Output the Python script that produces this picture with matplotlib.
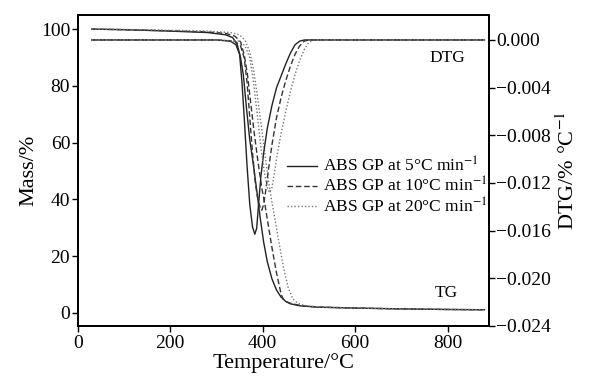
import numpy as np
import matplotlib
matplotlib.use("Agg")
import matplotlib.pyplot as plt

plt.rcParams['font.family'] = ['Liberation Serif', 'DejaVu Serif']
plt.rcParams['mathtext.fontset'] = 'stix'

# TG curves (mass %)
tg5_t = [30, 100, 200, 280, 320, 335, 345, 352, 358, 365, 372, 380, 388, 395, 402, 410, 420, 430, 440, 450, 460, 480, 520, 600, 700, 800, 880]
tg5_m = [100, 99.8, 99.3, 98.8, 98.0, 97.0, 94.5, 90, 84, 72, 61, 52, 42, 33, 25, 18, 12, 8, 5.5, 4, 3.2, 2.5, 2.0, 1.7, 1.4, 1.2, 1.1]

tg10_t = [30, 100, 200, 280, 320, 340, 352, 360, 367, 374, 382, 390, 398, 405, 412, 420, 430, 440, 444, 450, 460, 470, 490, 530, 600, 700, 800, 880]
tg10_m = [100, 99.8, 99.4, 99.0, 98.5, 97.5, 95.5, 91, 84, 74, 63, 53, 44, 38, 31, 23, 14, 6.5, 5, 4, 3.4, 3.0, 2.4, 2.0, 1.7, 1.4, 1.2, 1.1]

tg20_t = [30, 100, 200, 280, 330, 350, 362, 372, 380, 388, 396, 404, 412, 420, 427, 435, 445, 455, 465, 475, 490, 520, 600, 700, 800, 880]
tg20_m = [100, 99.9, 99.6, 99.3, 98.8, 98, 96, 92, 86, 77, 67, 57, 47, 39, 32.6, 25, 16, 9, 5, 3.5, 2.6, 2.1, 1.7, 1.4, 1.2, 1.1]

# DTG curves (%/degC)
dtg5_t = [30, 200, 300, 330, 342, 350, 355, 360, 366, 372, 378, 383, 387, 391, 396, 402, 410, 420, 430, 440, 450, 460, 470, 480, 490, 600, 880]
dtg5_d = [0, 0, 0, -0.0001, -0.0004, -0.0012, -0.0035, -0.0065, -0.0105, -0.0138, -0.0157, -0.0163, -0.0158, -0.0138, -0.0115,
          -0.0095, -0.0074, -0.0055, -0.0040, -0.0030, -0.0020, -0.0011, -0.0004, -0.0001, 0, 0, 0]

dtg10_t = [30, 300, 340, 352, 360, 366, 372, 378, 384, 390, 395, 398, 402, 406, 412, 420, 430, 440, 450, 460, 470, 480, 490, 500, 600, 880]
dtg10_d = [0, 0, -0.0001, -0.0005, -0.0015, -0.0035, -0.0065, -0.0095, -0.0120, -0.0135, -0.0141, -0.0143, -0.0138, -0.0128,
           -0.0110, -0.0088, -0.0065, -0.0048, -0.0034, -0.0022, -0.0012, -0.0005, -0.0001, 0, 0, 0]

dtg20_t = [30, 300, 350, 362, 372, 380, 388, 396, 404, 410, 415, 420, 426, 432, 440, 450, 460, 470, 480, 490, 500, 510, 600, 880]
dtg20_d = [0, 0, -0.0001, -0.0005, -0.0015, -0.0035, -0.0062, -0.0090, -0.0112, -0.0124, -0.0128, -0.0124, -0.0110, -0.0095,
           -0.0078, -0.0060, -0.0043, -0.0029, -0.0017, -0.0008, -0.0002, 0, 0, 0]

labels = ['ABS GP at 5°C min$^{-1}$', 'ABS GP at 10°C min$^{-1}$', 'ABS GP at 20°C min$^{-1}$']
styles = ['-', (0, (4, 2)), (0, (1, 1.5))]
colors = ['#222222', '#333333', '#777777']

fig = plt.figure(figsize=(5.9, 3.83), dpi=100)
ax = fig.add_axes([0.132, 0.149, 0.697, 0.812])
ax2 = ax.twinx()

tg = [(tg5_t, tg5_m), (tg10_t, tg10_m), (tg20_t, tg20_m)]
dtg = [(dtg5_t, dtg5_d), (dtg10_t, dtg10_d), (dtg20_t, dtg20_d)]
handles = []
for i in range(3):
    ax.plot(tg[i][0], tg[i][1], ls=styles[i], color=colors[i], lw=1.0)
    h, = ax2.plot(dtg[i][0], dtg[i][1], ls=styles[i], color=colors[i], lw=1.0, label=labels[i])
    handles.append(h)

ax.set_xlim(0, 890)
ax.set_ylim(-4.6, 105)
ax2.set_ylim(-0.024, 0.0021)
ax.set_xticks([0, 200, 400, 600, 800])
ax.set_yticks([0, 20, 40, 60, 80, 100])
ax2.set_yticks([0, -0.004, -0.008, -0.012, -0.016, -0.020, -0.024])
ax2.set_yticklabels(['0.000', '\u22120.004', '\u22120.008', '\u22120.012', '\u22120.016', '\u22120.020', '\u22120.024'])

ax.tick_params(direction='out', length=4.5, width=1, labelsize=14, pad=2)
ax.tick_params(axis='y', pad=1)
ax2.tick_params(direction='out', length=4.5, width=1, labelsize=14, pad=0.5)
for a in (ax, ax2):
    for s in a.spines.values():
        s.set_linewidth(1.3)

ax.set_xlabel('Temperature/°C', fontsize=16, labelpad=1)
ax.set_ylabel('Mass/%', fontsize=16, labelpad=2)
ax2.set_ylabel('DTG/% °C$^{-1}$', fontsize=16, labelpad=4)

ax.text(800, 89.8, 'DTG', fontsize=12.5, ha='center', va='center')
ax.text(797, 7, 'TG', fontsize=12.5, ha='center', va='center')

ax2.legend(handles=handles, loc='upper left', bbox_to_anchor=(0.486, 0.59), bbox_transform=fig.transFigure,
           frameon=False, fontsize=12.5, handlelength=1.75, handletextpad=0.35, labelspacing=0.05,
           borderpad=0, borderaxespad=0)

fig.savefig('out.png', dpi=100)
